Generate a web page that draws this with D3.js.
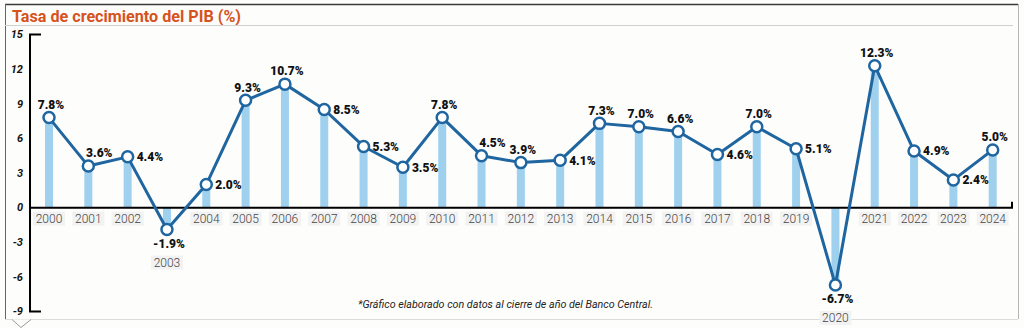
<!DOCTYPE html>
<html>
<head>
<meta charset="utf-8">
<script src="https://cdn.jsdelivr.net/npm/d3@7/dist/d3.min.js"></script>
<style>
  html, body { margin: 0; padding: 0; background: #fdfdfc; }
  svg { display: block; font-family: Roboto, "Open Sans", sans-serif; }
</style>
</head>
<body>
<div id="chart"></div>
<script>
// --- datos ---
const years = [2000, 2001, 2002, 2003, 2004, 2005, 2006, 2007, 2008, 2009, 2010, 2011, 2012,
  2013, 2014, 2015, 2016, 2017, 2018, 2019, 2020, 2021, 2022, 2023, 2024];
const growth = [7.8, 3.6, 4.4, -1.9, 2.0, 9.3, 10.7, 8.5, 5.3, 3.5, 7.8, 4.5, 3.9,
  4.1, 7.3, 7.0, 6.6, 4.6, 7.0, 5.1, -6.7, 12.3, 4.9, 2.4, 5.0];
const yTicks = [-9, -6, -3, 0, 3, 6, 9, 12, 15];
// dónde va la etiqueta de cada punto
const labelSide = ["top", "topright", "right", "bottom", "right", "top", "top", "right", "right", "right",
  "top", "topright", "top", "right", "top", "top", "top", "right", "top", "right",
  "bottom", "top", "right", "right", "top"];
const title = "Tasa de crecimiento del PIB (%)";
const note = "*Gráfico elaborado con datos al cierre de año del Banco Central.";

const data = years.map((y, i) => ({ year: y, value: growth[i], side: labelSide[i] }));

const W = 1024, H = 328;
const svg = d3.select("#chart").append("svg")
  .attr("width", W).attr("height", H);

// --- marco ---
svg.append("line").attr("x1", 5).attr("x2", 1018).attr("y1", 4.5).attr("y2", 4.5)
  .attr("stroke", "#3a3a3a").attr("stroke-width", 1.5);
svg.append("line").attr("x1", 5.5).attr("x2", 5.5).attr("y1", 4).attr("y2", 319)
  .attr("stroke", "#666").attr("stroke-width", 1);
svg.append("line").attr("x1", 1018.5).attr("x2", 1018.5).attr("y1", 4).attr("y2", 319)
  .attr("stroke", "#b5b5b5").attr("stroke-width", 1);
svg.append("line").attr("x1", 5).attr("x2", 1018).attr("y1", 319.5).attr("y2", 319.5)
  .attr("stroke", "#dcdcdc").attr("stroke-width", 1);
svg.append("path").attr("d", "M12,319.5 L21,327.5 L31,319.5")
  .attr("fill", "#fdfdfc").attr("stroke", "#9a9a9a").attr("stroke-width", 1);

svg.append("text")
  .attr("x", 12).attr("y", 21.5)
  .attr("font-size", 16).attr("font-weight", 700)
  .attr("fill", "#d5531d")
  .attr("textLength", 229).attr("lengthAdjust", "spacingAndGlyphs")
  .text(title);
svg.append("line").attr("x1", 5).attr("x2", 1013).attr("y1", 25.5).attr("y2", 25.5)
  .attr("stroke", "#d0d0d0").attr("stroke-width", 1);

// --- escalas ---
const x = d3.scalePoint().domain(years).range([49, 992.7]);
const y = d3.scaleLinear().domain([-9, 15]).range([311.5, 34.5]);

// --- eje Y ---
const yAxis = svg.append("g");
yAxis.append("path")
  .attr("d", `M41,${y(15)} H30 V${y(-9)} H41`)
  .attr("fill", "none").attr("stroke", "#000").attr("stroke-width", 2);
yAxis.selectAll("text").data(yTicks).join("text")
  .attr("x", 23).attr("y", d => y(d))
  .attr("dy", "0.35em")
  .attr("text-anchor", "end")
  .attr("font-size", 11).attr("font-style", "italic").attr("font-weight", 700)
  .attr("fill", "#111")
  .text(d => d);

// --- barras ---
svg.append("g").selectAll("rect").data(data).join("rect")
  .attr("x", d => x(d.year) - 4)
  .attr("width", 8)
  .attr("y", d => y(Math.max(0, d.value)))
  .attr("height", d => Math.abs(y(d.value) - y(0)))
  .attr("fill", "#9fd1ef");

// línea del cero
svg.append("path")
  .attr("d", `M30,${y(0)} H1012 V${y(0) - 6}`)
  .attr("fill", "none").attr("stroke", "#000").attr("stroke-width", 2);

// --- etiquetas de años ---
const yearG = svg.append("g").selectAll("g").data(data).join("g")
  .attr("transform", d => {
    const cy = d.value < 0 ? y(d.value) + 33 : y(0) + 11;
    return `translate(${x(d.year)},${cy})`;
  });
yearG.append("rect")
  .attr("x", -16).attr("y", -7).attr("width", 32).attr("height", 14)
  .attr("fill", "#f2f2f2");
yearG.append("text")
  .attr("text-anchor", "middle").attr("dy", "0.36em")
  .attr("font-size", 12).attr("font-weight", 300).attr("fill", "#444")
  .text(d => d.year);

// --- línea ---
const line = d3.line().x(d => x(d.year)).y(d => y(d.value));
svg.append("path").datum(data)
  .attr("d", line)
  .attr("fill", "none").attr("stroke", "#1f65a0").attr("stroke-width", 3)
  .attr("stroke-linejoin", "round");

svg.append("g").selectAll("circle").data(data).join("circle")
  .attr("cx", d => x(d.year)).attr("cy", d => y(d.value))
  .attr("r", 5.5)
  .attr("fill", "#fff").attr("stroke", "#1f65a0").attr("stroke-width", 2.5);

// --- valores ---
const fmt = v => v.toFixed(1) + "%";
svg.append("g").selectAll("text").data(data).join("text")
  .attr("x", d => {
    const px = x(d.year);
    if (d.side === "right") return px + 9;
    if (d.side === "topright") return px + 11;
    return px + 2;
  })
  .attr("y", d => {
    const py = y(d.value);
    if (d.side === "right") return py;
    if (d.side === "bottom") return py + 14;
    return py - 13;
  })
  .attr("dy", "0.36em")
  .attr("text-anchor", d => d.side === "right" ? "start" : "middle")
  .attr("font-size", 12).attr("font-weight", 900).attr("fill", "#111")
  .text(d => fmt(d.value));

// --- nota ---
svg.append("text")
  .attr("x", 358).attr("y", 308)
  .attr("font-size", 11).attr("font-style", "italic")
  .attr("fill", "#222")
  .attr("textLength", 295).attr("lengthAdjust", "spacingAndGlyphs")
  .text(note);
</script>
</body>
</html>
